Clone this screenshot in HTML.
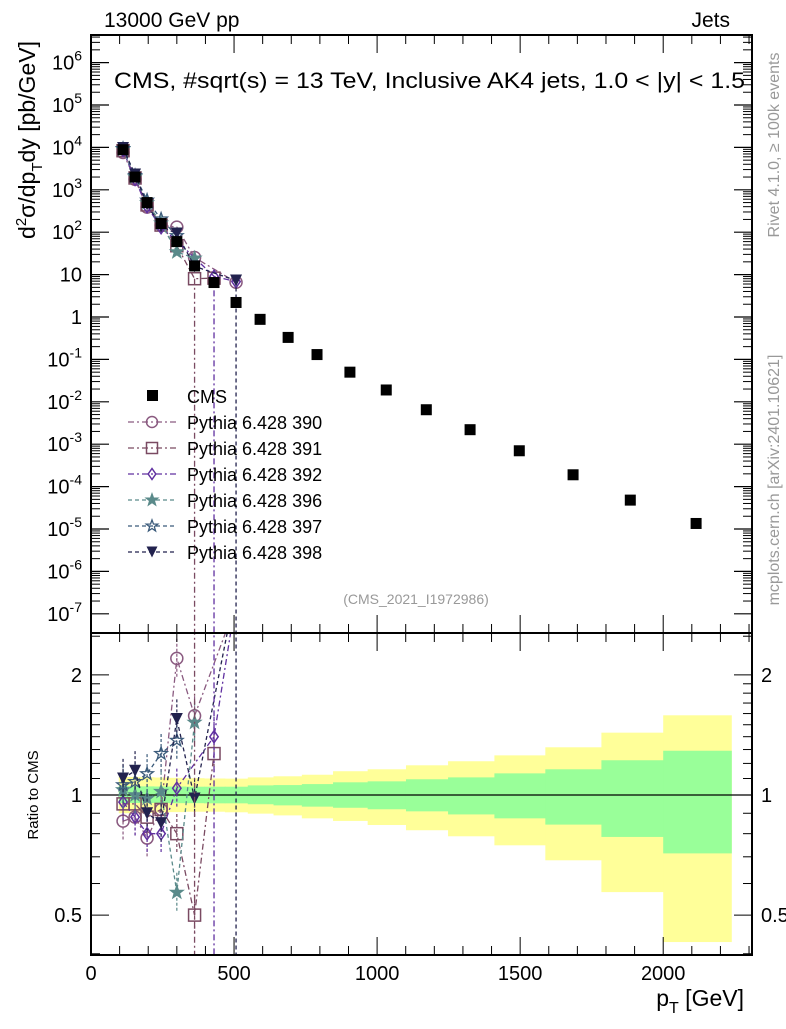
<!DOCTYPE html>
<html><head><meta charset="utf-8"><style>
body{margin:0;background:#fff;}
svg text{font-family:"Liberation Sans",sans-serif;}
</style></head><body>
<svg id="c" width="786" height="1024" xmlns="http://www.w3.org/2000/svg"></svg>
<script>
const xs = [112,154,196,245,300,362,430,507,591,689,790,905,1032,1172,1325,1497,1685,1885,2115];
const cms = [8.8e3,2.0e3,5.0e2,1.6e2,60,16,6.5,2.2,0.88,0.33,0.13,0.05,0.019,6.5e-3,2.2e-3,7e-4,1.9e-4,4.8e-5,1.35e-5];
const names = ["Pythia 6.428 390","Pythia 6.428 391","Pythia 6.428 392","Pythia 6.428 396","Pythia 6.428 397","Pythia 6.428 398"];
const r390 = [0.86,0.88,0.78,0.92,2.2,1.58,null,3.0];
const r391 = [0.95,0.95,0.88,0.92,0.80,0.50,1.27];
const r392 = [0.96,0.88,0.80,0.80,1.04,null,1.40,3.1];
const r396 = [1.03,1.00,0.98,1.02,0.57,1.52];
const r397 = [1.06,1.08,1.13,1.27,1.37,null];
const r398 = [1.10,1.15,0.90,0.85,1.55,0.98,null,3.3];
const bandEdges = [97,133,174,220,272,330,395,468,548,638,737,846,967,1101,1248,1410,1588,1784,2000,2238];
const yelUp = [1.110,1.110,1.108,1.106,1.104,1.102,1.100,1.099,1.107,1.114,1.124,1.147,1.160,1.187,1.215,1.257,1.317,1.433,1.584];
const yelDn = [0.900,0.900,0.902,0.904,0.906,0.908,0.908,0.905,0.898,0.889,0.874,0.861,0.841,0.816,0.788,0.748,0.686,0.571,0.428];
const grnUp = [1.053,1.052,1.051,1.050,1.050,1.049,1.049,1.049,1.057,1.059,1.065,1.076,1.082,1.095,1.107,1.133,1.160,1.222,1.291];
const grnDn = [0.955,0.955,0.955,0.955,0.954,0.954,0.953,0.953,0.948,0.942,0.935,0.929,0.921,0.910,0.894,0.874,0.843,0.785,0.714];
const xTicks = [0,500,1000,1500,2000];
const yTickExp = [-7,-6,-5,-4,-3,-2,-1,0,1,2,3,4,5,6];

const S = document.getElementById('c');
const NS = "http://www.w3.org/2000/svg";
function el(tag, at, parent){const e=document.createElementNS(NS,tag);for(const k in at)e.setAttribute(k,at[k]);(parent||S).appendChild(e);return e;}
const L=91,R=752,T=35,M=633,B=955;
const X = v => L + v*0.2861;
const Y = v => 317 - Math.log10(v)*42.4;
const RY = v => 795 - Math.log10(v)*399;

for(let i=0;i<yelUp.length;i++){
  let r=el('rect',{x:X(bandEdges[i]),y:RY(yelUp[i]),width:X(bandEdges[i+1])-X(bandEdges[i])+0.5,height:RY(yelDn[i])-RY(yelUp[i]),fill:'#ffff99'});
  
  
}
for(let i=0;i<grnUp.length;i++){
  let r=el('rect',{x:X(bandEdges[i]),y:RY(grnUp[i]),width:X(bandEdges[i+1])-X(bandEdges[i])+0.5,height:RY(grnDn[i])-RY(grnUp[i]),fill:'#99ff99'});
  
  
}
el('line',{x1:L,x2:R,y1:RY(1),y2:RY(1),stroke:'#000','stroke-width':1.2});

const cols=['#8a5a80','#7a4a62','#6030a0','#5a8a8a','#3a5a7a','#22224e'];
const dashes=['6,3,2,3','6,3,2,3','6,3,2,3','4,3','4,3','4,3'];
const ratios=[r390,r391,r392,r396,r397,r398];
function marker(k,x,y,g,sz){
  const c=cols[k]; sz=sz||6;
  let m;
  if(k==0) m=el('circle',{cx:x,cy:y,r:sz,fill:'none',stroke:c,'stroke-width':1.5},g);
  else if(k==1) m=el('rect',{x:x-sz,y:y-sz,width:2*sz,height:2*sz,fill:'none',stroke:c,'stroke-width':1.5},g);
  else if(k==2) m=el('polygon',{points:`${x},${y-sz} ${x+sz*0.7},${y} ${x},${y+sz} ${x-sz*0.7},${y}`,fill:'none',stroke:c,'stroke-width':1.5},g);
  else if(k==5) m=el('polygon',{points:`${x-sz},${y-sz} ${x+sz},${y-sz} ${x},${y+sz}`,fill:c},g);
  else {let p='';for(let i=0;i<10;i++){const a=-Math.PI/2+i*Math.PI/5,rr=i%2?sz*0.45:sz*1.1;p+=`${x+rr*Math.cos(a)},${y+rr*Math.sin(a)} `;}
    m=el('polygon',{points:p,fill:k==3?c:'none',stroke:c,'stroke-width':1.3},g);}
  
  
}
const clipDefs=el('defs',{});
let cp=el('clipPath',{id:'cm'},clipDefs);el('rect',{x:L,y:T,width:R-L,height:M-T},cp);
cp=el('clipPath',{id:'cr'},clipDefs);el('rect',{x:L,y:M,width:R-L,height:B-M},cp);

ratios.forEach((arr,k)=>{
  const gm=el('g',{'clip-path':'url(#cm)'});
  
  
  const gr=el('g',{'clip-path':'url(#cr)'});
  
  
  let pm='',pr='';
  arr.forEach((v,i)=>{ if(v==null) return;
    pm+=(pm?'L':'M')+X(xs[i])+','+Y(cms[i]*v);
    pr+=(pr?'L':'M')+X(xs[i])+','+RY(v);
  });
  el('path',{d:pm,fill:'none',stroke:cols[k],'stroke-width':1.3,'stroke-dasharray':dashes[k]},gm);
  el('path',{d:pr,fill:'none',stroke:cols[k],'stroke-width':1.3,'stroke-dasharray':dashes[k]},gr);
  arr.forEach((v,i)=>{ if(v==null) return;
    el('line',{x1:X(xs[i]),x2:X(xs[i]),y1:RY(v*1.12),y2:RY(v/1.12),stroke:cols[k],'stroke-width':1.2,'stroke-dasharray':'3,2'},gr);
    marker(k,X(xs[i]),Y(cms[i]*v),gm);
    marker(k,X(xs[i]),RY(v),gr);
  });
});
[[1,5],[2,6],[5,7]].forEach(([k,i])=>{
  const l=el('line',{x1:X(xs[i]),x2:X(xs[i]),y1:Y(cms[i]*(ratios[k][i]||3)),y2:B,stroke:cols[k],'stroke-width':1.3,'stroke-dasharray':dashes[k]});
  
  
});
xs.forEach((x,i)=>{
  const r=el('rect',{x:X(x)-5.5,y:Y(cms[i])-5.5,width:11,height:11,fill:'#000'});
  
  
});

el('rect',{x:L,y:T,width:R-L,height:M-T,fill:'none',stroke:'#000','stroke-width':2});
el('rect',{x:L,y:M,width:R-L,height:B-M,fill:'none',stroke:'#000','stroke-width':2});
yTickExp.forEach(e=>{
  const y=Y(Math.pow(10,e));
  el('line',{x1:L,x2:L+18,y1:y,y2:y,stroke:'#000','stroke-width':1.2});
  el('line',{x1:R,x2:R-18,y1:y,y2:y,stroke:'#000','stroke-width':1.2});
  for(let m=2;m<10;m++){const yy=Y(m*Math.pow(10,e));if(yy<T)continue;
    el('line',{x1:L,x2:L+9,y1:yy,y2:yy,stroke:'#000'});el('line',{x1:R,x2:R-9,y1:yy,y2:yy,stroke:'#000'});}
  let t=el('text',{x:L-9,y:y+7,'font-size':20,'text-anchor':'end'});
  if(e==0) t.textContent='1';
  else if(e==1) t.textContent='10';
  else t.innerHTML='10<tspan dy="-9" font-size="14">'+e+'</tspan>';
  
  
});
[0.4,0.5,0.6,0.7,0.8,0.9,1,1.1,1.2,1.3,1.4,1.5,1.6,1.7,1.8,1.9,2,2.5].forEach(v=>{
  const y=RY(v);const big=[0.5,1,2].includes(v);const w=big?18:9;
  el('line',{x1:L,x2:L+w,y1:y,y2:y,stroke:'#000'});el('line',{x1:R,x2:R-w,y1:y,y2:y,stroke:'#000'});
  if(big){
    let t=el('text',{x:L-9,y:y+7,'font-size':20,'text-anchor':'end'});t.textContent=v;
    
    t=el('text',{x:R+9,y:y+7,'font-size':20}); t.textContent=v;
    
  }
});
for(let v=0;v<=2300;v+=100){const x=X(v);const big=v%500==0;const w=big?18:9;
  el('line',{x1:x,x2:x,y1:B,y2:B-w,stroke:'#000'});el('line',{x1:x,x2:x,y1:M,y2:M-w,stroke:'#000'});el('line',{x1:x,x2:x,y1:M,y2:M+w,stroke:'#000'});el('line',{x1:x,x2:x,y1:T,y2:T+w,stroke:'#000'});}
xTicks.forEach(v=>{const t=el('text',{x:X(v),y:980,'font-size':20,'text-anchor':'middle'});t.textContent=v;
  });

function txt(name,at,html){const t=el('text',at);t.innerHTML=html;return t;}
txt('title-left',{x:104,y:27,'font-size':21},'13000 GeV pp');
txt('title-right',{x:730,y:27,'font-size':21,'text-anchor':'end'},'Jets');
txt('plot-title',{x:114,y:88,'font-size':22,textLength:631,lengthAdjust:'spacingAndGlyphs'},'CMS, #sqrt(s) = 13 TeV, Inclusive AK4 jets, 1.0 &lt; |y| &lt; 1.5');
txt('analysis-id',{x:416,y:604,'font-size':14,fill:'#999','text-anchor':'middle'},'(CMS_2021_I1972986)');
txt('y-axis-title',{transform:'translate(35,140) rotate(-90)','font-size':23,'text-anchor':'middle'},'d<tspan dy="-9" font-size="15">2</tspan><tspan dy="9">σ/dp</tspan><tspan dy="7" font-size="15">T</tspan><tspan dy="-7">dy [pb/GeV]</tspan>');
txt('ratio-axis-title',{transform:'translate(38,795) rotate(-90)','font-size':15,'text-anchor':'middle'},'Ratio to CMS');
txt('x-axis-title',{x:744,y:1006,'font-size':23,'text-anchor':'end'},'p<tspan dy="7" font-size="16">T</tspan><tspan dy="-7"> [GeV]</tspan>');
txt('rivet-label',{transform:'translate(779,145) rotate(-90)','font-size':16,fill:'#999','text-anchor':'middle'},'Rivet 4.1.0, ≥ 100k events');
txt('mcplots-label',{transform:'translate(779,480) rotate(-90)','font-size':16,fill:'#999','text-anchor':'middle'},'mcplots.cern.ch [arXiv:2401.10621]');

const lg=el('g',{});
el('rect',{x:147,y:390,width:11,height:11,fill:'#000'},lg);
txt('legend-entry-cms',{x:187,y:403,'font-size':18},'CMS');
names.forEach((n,k)=>{const y=422+k*26;
  el('line',{x1:128,x2:176,y1:y,y2:y,stroke:cols[k],'stroke-width':1.3,'stroke-dasharray':dashes[k]},lg);
  marker(k,152,y,lg,5.5);
  txt('legend-entry',{x:187,y:y+7,'font-size':18},n);
});
</script>
</body></html>
